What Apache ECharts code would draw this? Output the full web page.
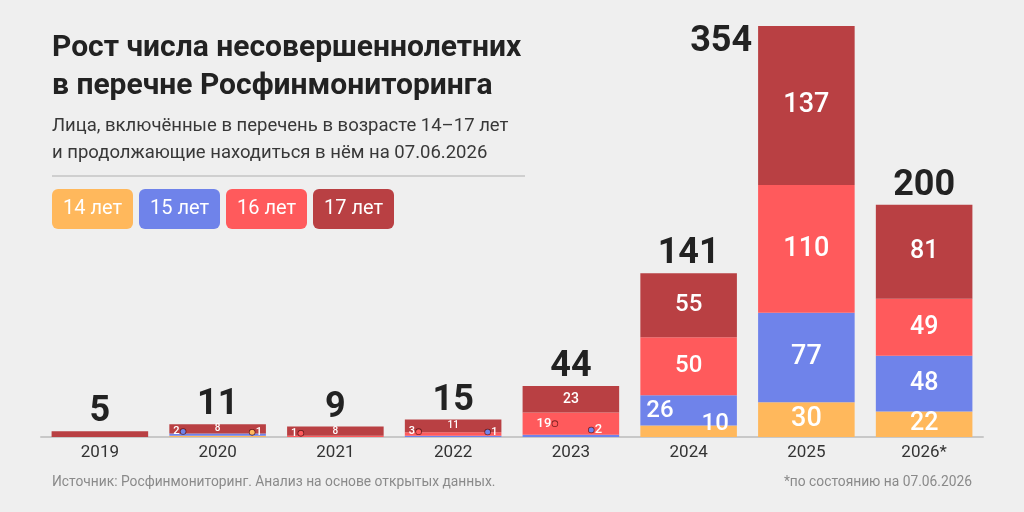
<!DOCTYPE html>
<html>
<head>
<meta charset="utf-8">
<script src="https://cdn.jsdelivr.net/npm/echarts@6/dist/echarts.min.js"></script>
<style>
  html, body { margin: 0; padding: 0; background: #efefef; }
  #chart { width: 1024px; height: 512px; }
</style>
</head>
<body>
<div id="chart"></div>
<script>
var years = ['2019', '2020', '2021', '2022', '2023', '2024', '2025', '2026*'];
var age14 = [0, 1, 0, 0, 0, 10, 30, 22];
var age15 = [0, 2, 0, 1, 2, 26, 77, 48];
var age16 = [0, 0, 1, 3, 19, 50, 110, 49];
var age17 = [5, 8, 8, 11, 23, 55, 137, 81];
var ageNames = ['14 лет', '15 лет', '16 лет', '17 лет'];
var colors = ['#FFB85C', '#6F83EA', '#FF5A5C', '#B94043'];

var totals = years.map(function (y, i) {
  return age14[i] + age15[i] + age16[i] + age17[i];
});

var font = 'Roboto';
// размер подписи внутри сегментов по годам
var innerSize = [0, 10, 10, 10, 14, 24, 27, 25];

// подписи маленьких сегментов (сбоку, с кружком)
var tinyLabels = {
  '0-1': { side: 'right', dx: -3, dy: -3.5 },
  '1-1': { side: 'left', dx: 3, dy: -2 },
  '2-2': { side: 'left', dx: 3, dy: -2.5 },
  '2-3': { side: 'left', dx: 3, dy: -0.7 },
  '1-3': { side: 'right', dx: -3, dy: -3.8 },
  '2-4': { side: 'left', dx: 13, dy: '50%', size: 13 },
  '1-4': { side: 'right', dx: -16, dy: -4.7, size: 13 }
};
// крупные подписи, сдвинутые вбок (2024)
var sideLabels = {
  '1-5': { pos: [0, '50%'], offset: [6, 1], align: 'left' },
  '0-5': { pos: ['100%', 0], offset: [-8, -1.5], align: 'right' }
};

function makeData(values, s) {
  return values.map(function (v, i) {
    var key = s + '-' + i;
    var item = { value: v };
    var t = tinyLabels[key];
    var sl = sideLabels[key];
    if (!v || (s === 3 && i === 0)) {
      item.label = { show: false };
    } else if (t) {
      var size = t.size || 11;
      var dot = '{d' + s + '|}';
      var txt = '{t|' + v + '}';
      item.label = {
        show: true,
        position: [t.side === 'left' ? 0 : '100%', typeof t.dy === 'string' ? t.dy : 0],
        offset: [t.dx, typeof t.dy === 'string' ? 0 : t.dy],
        align: t.side,
        verticalAlign: 'middle',
        formatter: t.side === 'left' ? txt + dot : dot + txt,
        rich: {
          t: { color: '#fff', fontSize: size, fontWeight: 500, fontFamily: font, padding: [0, 1, 0, 1] }
        }
      };
      item.label.rich['d' + s] = {
        width: 5, height: 5, borderRadius: 3,
        backgroundColor: colors[s],
        borderColor: 'rgba(70,10,10,0.7)', borderWidth: 0.8
      };
    } else if (sl) {
      item.label = {
        show: true,
        position: sl.pos,
        offset: sl.offset,
        align: sl.align,
        verticalAlign: 'middle',
        fontSize: innerSize[i]
      };
    } else {
      item.label = { show: true, fontSize: innerSize[i] };
    }
    return item;
  });
}

var seriesValues = [age14, age15, age16, age17];
var series = seriesValues.map(function (vals, s) {
  return {
    name: ageNames[s],
    type: 'bar',
    stack: 'all',
    barCategoryGap: '18%',
    barGap: '-100%',
    itemStyle: { color: colors[s] },
    label: {
      show: true,
      position: 'inside',
      color: '#fff',
      fontFamily: font,
      fontWeight: 500
    },
    data: makeData(vals, s)
  };
});

series.push({
  name: 'total',
  type: 'bar',
  barGap: '-100%',
  silent: true,
  itemStyle: { color: 'rgba(0,0,0,0)' },
  label: {
    show: true,
    position: 'top',
    distance: 1,
    color: '#222',
    fontFamily: font,
    fontWeight: 700,
    fontSize: 36
  },
  data: totals.map(function (v, i) {
    if (i === 6) {
      return {
        value: v,
        label: { position: [-6, 16], align: 'right', verticalAlign: 'middle' }
      };
    }
    return v;
  }),
  z: 3
});

var graphic = [
  { type: 'text', x: 52, y: 48, style: { text: 'Рост числа несовершеннолетних', fill: '#222', fontFamily: font, fontWeight: 700, fontSize: 30, verticalAlign: 'middle' } },
  { type: 'text', x: 52, y: 86, style: { text: 'в перечне Росфинмониторинга', fill: '#222', fontFamily: font, fontWeight: 700, fontSize: 30, verticalAlign: 'middle' } },
  { type: 'text', x: 52, y: 126, style: { text: 'Лица, включённые в перечень в возрасте 14–17 лет', fill: '#383838', fontFamily: font, fontSize: 18.5, verticalAlign: 'middle' } },
  { type: 'text', x: 52, y: 153, style: { text: 'и продолжающие находиться в нём на 07.06.2026', fill: '#383838', fontFamily: font, fontSize: 18.5, verticalAlign: 'middle' } },
  { type: 'line', shape: { x1: 52, y1: 176, x2: 525, y2: 176 }, style: { stroke: '#c4c4c4', lineWidth: 1.5 } },
  { type: 'text', x: 52, y: 483, style: { text: 'Источник: Росфинмониторинг. Анализ на основе открытых данных.', fill: '#8a8a8a', fontFamily: font, fontSize: 13.8, verticalAlign: 'middle' } },
  { type: 'text', x: 972, y: 483, style: { text: '*по состоянию на 07.06.2026', fill: '#8a8a8a', fontFamily: font, fontSize: 13.8, align: 'right', verticalAlign: 'middle' } }
];

// плашки легенды
var pillX = [52, 139, 226, 313];
ageNames.forEach(function (name, k) {
  graphic.push({
    type: 'rect',
    shape: { x: pillX[k], y: 189, width: 81, height: 40, r: 6 },
    style: { fill: colors[k] }
  });
  graphic.push({
    type: 'text',
    x: pillX[k] + 40.5, y: 209,
    style: { text: name, fill: '#fff', fontFamily: font, fontSize: 20, align: 'center', verticalAlign: 'middle' }
  });
});

var chart = echarts.init(document.getElementById('chart'));
chart.setOption({
  backgroundColor: '#efefef',
  animation: false,
  grid: { left: 41, right: 41, top: 26, bottom: 75 },
  xAxis: {
    type: 'category',
    data: years,
    axisTick: { show: false },
    axisLine: { lineStyle: { color: '#c8c8c8', width: 2 } },
    axisLabel: { color: '#333', fontFamily: font, fontSize: 17, margin: 7 }
  },
  yAxis: {
    type: 'value',
    min: 0,
    max: 354,
    show: false,
    splitLine: { show: false }
  },
  graphic: graphic,
  series: series
});
</script>
</body>
</html>
